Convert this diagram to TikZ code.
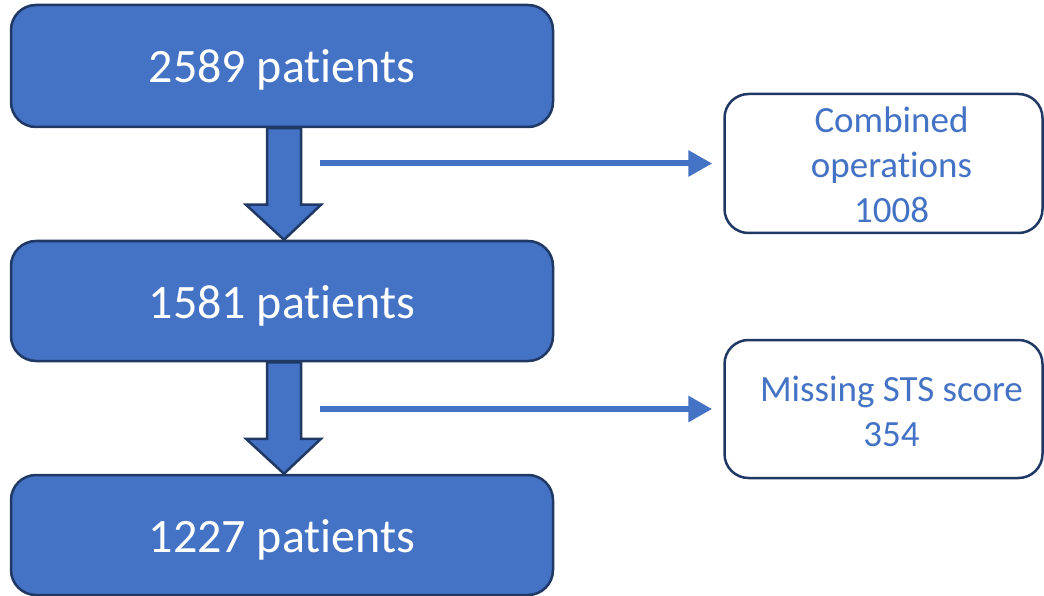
\documentclass[tikz,border=0pt]{standalone}
\usepackage{fontspec}
\setmainfont{Carlito}[Ligatures=NoCommon]
\usetikzlibrary{arrows.meta,calc,backgrounds}
\definecolor{boxblue}{HTML}{4472C4}
\definecolor{navy}{HTML}{1F3864}
\tikzset{
  mainbox/.style={draw=navy, line width=2.5pt, fill=boxblue, rounded corners=25pt,
    minimum width=542pt, minimum height=120pt, inner sep=0pt, text=white,
    text height=44pt, text depth=10pt,
    font=\fontsize{48}{58}\selectfont},
  sidebox/.style={draw=navy, line width=2.5pt, fill=white, rounded corners=24pt,
    minimum width=318pt, minimum height=138pt, inner sep=0pt},
  sidetext/.style={text=boxblue, align=center, inner sep=0pt,
    font=\fontsize{37}{45}\selectfont},
  blockarrow/.style={draw=navy, line width=2.5pt, fill=boxblue, line join=miter},
  thinarrow/.style={draw=boxblue, line width=6pt,
    -{Triangle[length=24pt,width=25pt]}, shorten >=11pt}
}
\begin{document}
\begin{tikzpicture}[x=1pt,y=-1pt]
\useasboundingbox (0,0) rectangle (1044,596);
\node[mainbox, minimum height=122pt] (top) at (282,66) {2589 patients};
\node[mainbox] (mid) at (282,301) {1581 patients};
\node[mainbox] (bot) at (282,535) {1227 patients};
\node[sidebox, minimum height=139pt] (r1) at (883.5,163.5) {};
\node[sidetext] at ($(r1.center)+(8,1)$) {Combined\\operations\\1008};
\node[sidebox] (r2) at (883.5,409) {};
\node[sidetext] at ($(r2.center)+(8,2)$) {Missing STS score\\354};
\begin{pgfonlayer}{background}
\foreach \a/\b in {top/mid, mid/bot}{
  \draw[blockarrow] ($(\a.south)+(-15,0)$) -- ($(\b.north)+(-15,-35)$)
    -- ($(\b.north)+(-36,-35)$) -- ($(\b.north)+(2,0)$)
    -- ($(\b.north)+(39,-35)$) -- ($(\b.north)+(19,-35)$)
    -- ($(\a.south)+(19,0)$) -- cycle;
}
\end{pgfonlayer}
\coordinate (s1) at (320,163.5);
\coordinate (s2) at (320,409);
\draw[thinarrow] (s1) -- (r1.west);
\draw[thinarrow] (s2) -- (r2.west);
\end{tikzpicture}
\end{document}
